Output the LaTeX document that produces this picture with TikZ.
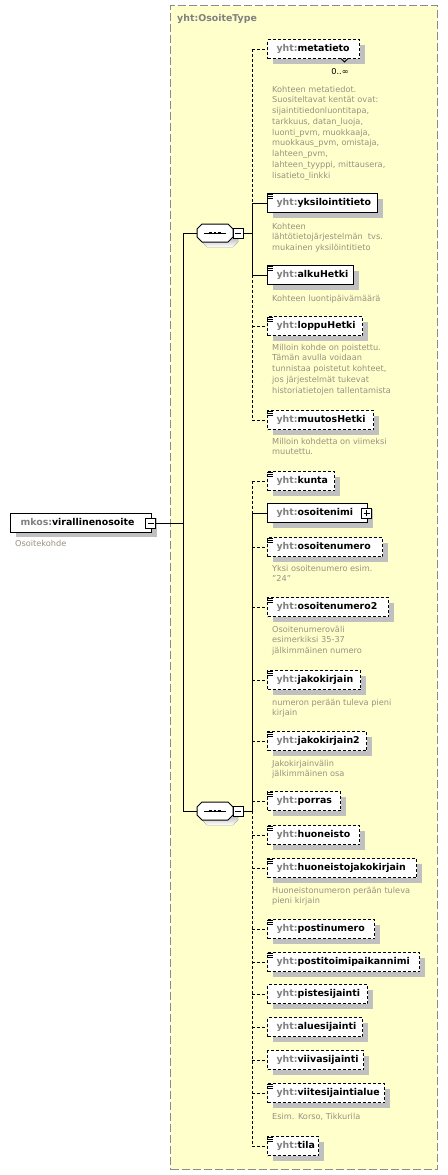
\documentclass[tikz,border=0pt]{standalone}
\usepackage{fontspec}
\setmainfont{DejaVu Sans}
\usetikzlibrary{shadows}
\definecolor{panel}{HTML}{FFFFCC}
\definecolor{pborder}{HTML}{8C8C8C}
\definecolor{pre}{HTML}{808080}
\definecolor{desc}{HTML}{9A9080}
\definecolor{shade}{HTML}{C0C0C0}
\newcommand\elt[2]{\makebox[#1pt][l]{\hspace{9pt}\textcolor{pre}{yht:}#2}}
\newcommand\dstrut{\rule{0pt}{8pt}}
\tikzset{
  shd/.style={drop shadow={shadow xshift=5pt,shadow yshift=-5pt,fill=shade,opacity=1}},
  elem/.style={rectangle,draw=black,line width=1pt,fill=white,anchor=west,minimum height=19pt,
    inner sep=0pt,text height=7pt,text depth=2pt,font=\fontsize{9.4}{11}\selectfont\bfseries,shd},
  opt/.style={elem,dash pattern=on 3pt off 2pt},
  dsc/.style={anchor=north west,inner sep=0pt,align=left,text=desc,font=\fontsize{8.2}{10.75}\selectfont},
  con/.style={line width=1pt},
  ocon/.style={con,dash pattern=on 3pt off 2pt},
  seq/.style={rectangle,draw=none,minimum width=36pt,minimum height=18pt,inner sep=0pt},
  icon/.style={rectangle,draw=black,line width=1pt,fill=white,minimum width=10pt,minimum height=10pt,inner sep=0pt},
  panelbox/.style={rectangle,draw=pborder,line width=1.3pt,dash pattern=on 8pt off 3pt,fill=panel,inner sep=0pt},
}
\newcommand\annicon[1]{\foreach \d in {1.5,3.5,5.5}{\draw[line width=0.9pt] ([yshift=-\d pt]#1.north west) -- ++(6,0);}}
\newcommand\minusmark[1]{\draw[line width=1pt] ([xshift=-3pt]#1.center) -- ([xshift=3pt]#1.center);}
\newcommand\octa{(-18,-4) -- (-13,-9) -- (13,-9) -- (18,-4) -- (18,4) -- (13,9) -- (-13,9) -- (-18,4) -- cycle}
\newcommand\seqmark[1]{%
  \begin{scope}[shift={(#1.center)}]
    \fill[shade,shift={(5,5)}] \octa;
    \filldraw[fill=white,draw=black,line width=1pt] \octa;
    \draw[line width=1pt] (-11,0) -- (11,0);
    \foreach \d in {-4.5,0,4.5}{\fill (\d-1.3,-1.3) rectangle (\d+1.3,1.3);}
  \end{scope}}
\begin{document}
\begin{tikzpicture}[x=1pt,y=-1pt]
\useasboundingbox (0,0) rectangle (447,1175);
\fill[white] (0,0) rectangle (447,1175);
\node[panelbox,minimum width=267pt,minimum height=1164pt,anchor=north west] (panel) at (170,5) {};
\node[anchor=west,inner sep=0pt,text=pre,font=\fontsize{9.4}{11}\selectfont\bfseries] (title) at (177,19) {yht:OsoiteType};

% root
\node[elem] (root) at (10,522.5) {\makebox[141pt][l]{\hspace{10pt}\textcolor{pre}{mkos:}virallinenosoite}};
\node[icon] (mr) at (150.5,523) {};
\minusmark{mr}
\node[dsc] (droot) at (15,538) {\dstrut Osoitekohde};

\coordinate (mx) at (183,0);
\coordinate (bx) at (252,0);

% sequences
\node[seq] (s1) at (215,233) {};
\seqmark{s1}
\node[icon] (m1) at (238,233) {};
\minusmark{m1}
\node[seq] (s2) at (215,811) {};
\seqmark{s2}
\node[icon] (m2) at (238,811) {};
\minusmark{m2}

% group 1 elements
\node[opt] (metatieto) at (267,49) {\elt{92}{metatieto}};
\draw[line width=0.9pt] (341,58.5) -- (344.5,62) -- (348,58.5);
\node[inner sep=0pt,font=\fontsize{8.2}{10}\selectfont] (mult) at (340,72) {0..∞};
\node[dsc] (d1) at (272,84) {\dstrut Kohteen metatiedot.\\Suositeltavat kentät ovat:\\sijaintitiedonluontitapa,\\tarkkuus, datan\_luoja,\\luonti\_pvm, muokkaaja,\\muokkaus\_pvm, omistaja,\\lahteen\_pvm,\\lahteen\_tyyppi, mittausera,\\lisatieto\_linkki};
\node[elem] (yks) at (267,203) {\elt{110}{yksilointitieto}};
\annicon{yks}
\node[dsc] (d2) at (272,221) {\dstrut Kohteen\\lähtötietojärjestelmän\ \ tvs.\\mukainen yksilöintitieto};
\node[elem] (alku) at (267,275) {\elt{86}{alkuHetki}};
\annicon{alku}
\node[dsc] (d3) at (272,293) {\dstrut Kohteen luontipäivämäärä};
\node[opt] (loppu) at (267,326) {\elt{95}{loppuHetki}};
\annicon{loppu}
\node[dsc] (d4) at (272,342) {\dstrut Milloin kohde on poistettu.\\Tämän avulla voidaan\\tunnistaa poistetut kohteet,\\jos järjestelmät tukevat\\historiatietojen tallentamista};
\node[opt] (muutos) at (267,420) {\elt{106}{muutosHetki}};
\annicon{muutos}
\node[dsc] (d5) at (272,436) {\dstrut Milloin kohdetta on viimeksi\\muutettu.};

% group 2 elements
\node[opt] (kunta) at (267,481) {\elt{67}{kunta}};
\annicon{kunta}
\node[elem] (osnimi) at (267,513) {\elt{100}{osoitenimi}};
\node[icon] (p7) at (366.5,513) {};
\draw[line width=1pt] ([xshift=-3pt]p7.center) -- ([xshift=3pt]p7.center) ([yshift=-3pt]p7.center) -- ([yshift=3pt]p7.center);
\node[opt] (osnum) at (267,547) {\elt{115}{osoitenumero}};
\annicon{osnum}
\node[dsc] (d8) at (272,563) {\dstrut Yksi osoitenumero esim.\\"24"};
\node[opt] (osnum2) at (267,607) {\elt{121}{osoitenumero2}};
\annicon{osnum2}
\node[dsc] (d9) at (272,624) {\dstrut Osoitenumeroväli\\esimerkiksi 35-37\\jälkimmäinen numero};
\node[opt] (jako) at (267,680) {\elt{93}{jakokirjain}};
\annicon{jako}
\node[dsc] (d10) at (272,697) {\dstrut numeron perään tuleva pieni\\kirjain};
\node[opt] (jako2) at (267,741) {\elt{99}{jakokirjain2}};
\annicon{jako2}
\node[dsc] (d11) at (272,758) {\dstrut Jakokirjainvälin\\jälkimmäinen osa};
\node[opt] (porras) at (267,801) {\elt{73}{porras}};
\annicon{porras}
\node[opt] (huon) at (267,835) {\elt{92}{huoneisto}};
\annicon{huon}
\node[opt] (huonjako) at (267,868) {\elt{149}{huoneistojakokirjain}};
\annicon{huonjako}
\node[dsc] (d14) at (272,885) {\dstrut Huoneistonumeron perään tuleva\\pieni kirjain};
\node[opt] (postinro) at (267,929) {\elt{107}{postinumero}};
\annicon{postinro}
\node[opt] (postitp) at (267,962) {\elt{152}{postitoimipaikannimi}};
\annicon{postitp}
\node[opt] (piste) at (267,994) {\elt{100}{pistesijainti}};
\node[opt] (alue) at (267,1027) {\elt{95}{aluesijainti}};
\node[opt] (viiva) at (267,1060) {\elt{96}{viivasijainti}};
\node[opt] (viite) at (267,1093) {\elt{117}{viitesijaintialue}};
\annicon{viite}
\node[dsc] (d20) at (272,1111) {\dstrut Esim. Korso, Tikkurila};
\node[opt] (tila) at (267,1146) {\elt{51}{tila}};
\annicon{tila}

% main connectors
\draw[con] (mr.east) -- (mr.east -| mx);
\draw[con] (s1.west -| mx) -- (s2.west -| mx);
\draw[con] (s1.west -| mx) -- (s1.west);
\draw[con] (s2.west -| mx) -- (s2.west);
\draw[con] (m1.east) -- (m1.east -| bx);
\draw[con] (m2.east) -- (m2.east -| bx);

% bus 1
\draw[ocon] (metatieto.west -| bx) -- (yks.west -| bx);
\draw[con] (yks.west -| bx) -- (alku.west -| bx);
\draw[ocon] (alku.west -| bx) -- (muutos.west -| bx);
\draw[ocon] (metatieto.west -| bx) -- (metatieto.west);
\draw[con] (yks.west -| bx) -- (yks.west);
\draw[con] (alku.west -| bx) -- (alku.west);
\draw[ocon] (loppu.west -| bx) -- (loppu.west);
\draw[ocon] (muutos.west -| bx) -- (muutos.west);

% bus 2
\draw[ocon] (kunta.west -| bx) -- (osnimi.west -| bx);
\draw[con] (osnimi.west -| bx) -- (m2.east -| bx);
\draw[ocon] (m2.east -| bx) -- (tila.west -| bx);
\draw[con] (osnimi.west -| bx) -- (osnimi.west);
\foreach \n in {kunta,osnum,osnum2,jako,jako2,porras,huon,huonjako,postinro,postitp,piste,alue,viiva,viite,tila}{
  \draw[ocon] (\n.west -| bx) -- (\n.west);
}
\end{tikzpicture}
\end{document}
